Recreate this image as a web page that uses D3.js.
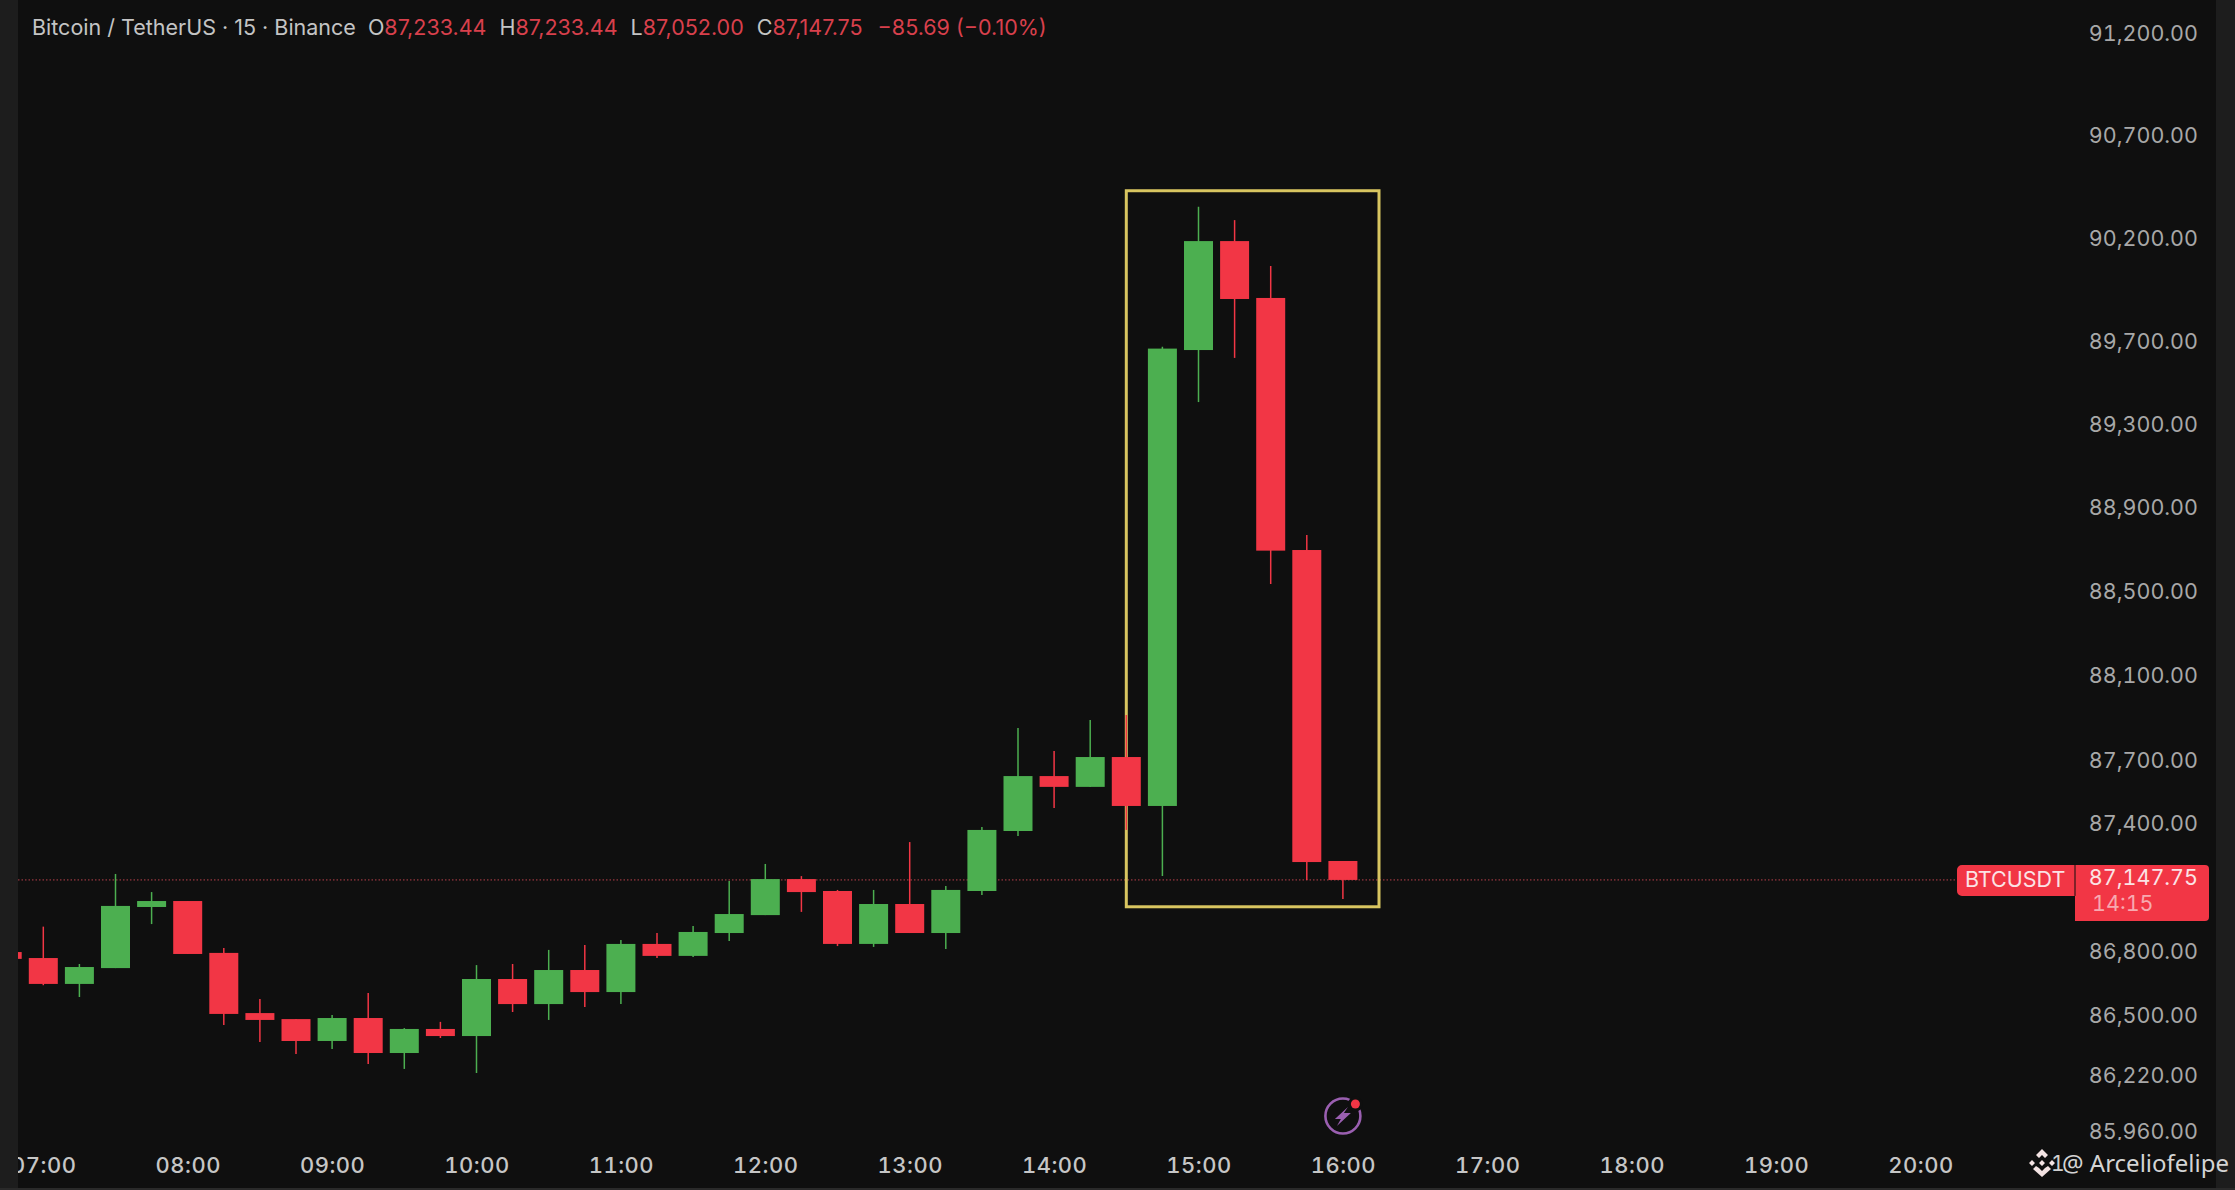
<!DOCTYPE html>
<html>
<head>
<meta charset="utf-8">
<style>
  body { margin: 0; background: #0f0f0f; }
  svg { display: block; font-family: Inter, "Liberation Sans", sans-serif; font-variant-numeric: tabular-nums; }
  .y-axis text { fill: #a8a8a8; font-family: Inter, sans-serif; font-size: 21.5px; }
  .x-axis text { fill: #c6c6c6; font-family: Inter, sans-serif; font-size: 22px; font-weight: 500; letter-spacing: 0.5px; }
  .legend { font-size: 21.5px; fill: #c4c4c4; font-variant-numeric: normal; }
  .legend .red { fill: #d8404c; }
</style>
</head>
<body>
<script src="https://cdnjs.cloudflare.com/ajax/libs/d3/7.8.5/d3.min.js"></script>
<script>
// 15 minute candles
var times = ["06:45", "07:00", "07:15", "07:30", "07:45", "08:00", "08:15", "08:30", "08:45", "09:00",
  "09:15", "09:30", "09:45", "10:00", "10:15", "10:30", "10:45", "11:00", "11:15", "11:30",
  "11:45", "12:00", "12:15", "12:30", "12:45", "13:00", "13:15", "13:30", "13:45", "14:00",
  "14:15", "14:30", "14:45", "15:00", "15:15", "15:30", "15:45", "16:00"];
var opens = [86793, 86765, 86644, 86718, 87004, 87032, 86789, 86508, 86480, 86378,
  86485, 86322, 86434, 86401, 86667, 86550, 86709, 86606, 86831, 86775,
  86882, 86966, 87135, 87079, 86831, 87018, 86882, 87079, 87361, 87620,
  87569, 87710, 87479, 89655, 90183, 89907, 88694, 87220];
var highs = [86793, 86912, 86737, 87159, 87074, 87032, 86812, 86574, 86480, 86499,
  86602, 86438, 86467, 86732, 86737, 86803, 86826, 86849, 86882, 86915,
  87126, 87206, 87149, 87084, 87084, 87309, 87103, 87380, 87847, 87739,
  87885, 87909, 89671, 90350, 90285, 90062, 88766, 87220];
var lows = [86761, 86638, 86583, 86718, 86924, 86784, 86452, 86373, 86317, 86341,
  86271, 86248, 86392, 86229, 86513, 86476, 86536, 86550, 86765, 86770,
  86845, 86966, 86981, 86821, 86817, 86882, 86807, 87060, 87338, 87469,
  87569, 87366, 87149, 89404, 89617, 88532, 87131, 87041];
var closes = [86761, 86644, 86723, 87009, 87032, 86784, 86504, 86476, 86378, 86485,
  86322, 86434, 86401, 86667, 86550, 86709, 86606, 86831, 86775, 86887,
  86971, 87135, 87074, 86831, 87018, 86882, 87084, 87366, 87620, 87569,
  87710, 87479, 89662, 90183, 89902, 88691, 87215, 87131];

// axis ticks
var priceTicks = [91200, 90700, 90200, 89700, 89300, 88900, 88500, 88100, 87700, 87400, 86800, 86500, 86220, 85960];
var timeTicks = ["07:00", "08:00", "09:00", "10:00", "11:00", "12:00", "13:00", "14:00",
  "15:00", "16:00", "17:00", "18:00", "19:00", "20:00"];

// yellow highlight box
var boxTimes = ["14:30", "16:15"];
var boxPrices = [90428, 87005];

// legend pieces, [text, is it red, gap before]
var legendParts = [["Bitcoin / TetherUS · 15 · Binance", false], ["O", false, 12], ["87,233.44", true],
  ["H", false, 13], ["87,233.44", true], ["L", false, 13], ["87,052.00", true], ["C", false, 13],
  ["87,147.75", true], ["−85.69 (−0.10%)", true, 15]];

var lastPriceLabel = "87,147.75";
var countdownLabel = "14:15";
var symbolLabel = "BTCUSDT";
var creditLabel = "@ Arceliofelipe";

var svgWidth = 2235;
var svgHeight = 1190;
var paneLeft = 18;
var paneRight = 2216;

var red = "#f23645";
var green = "#4caf50";

var parseTime = d3.timeParse("%H:%M");

var svg = d3.select("body")
  .append("svg")
  .attr("width", svgWidth)
  .attr("height", svgHeight);

svg.append("rect")
  .attr("width", svgWidth)
  .attr("height", svgHeight)
  .attr("fill", "#0f0f0f");

svg.append("clipPath")
  .attr("id", "price-clip")
  .append("rect")
  .attr("x", -svgWidth)
  .attr("width", svgWidth * 2)
  .attr("height", 1139);

// x is a time scale, y is logarithmic like the chart it comes from
var x = d3.scaleTime()
  .domain([parseTime("07:00"), parseTime("20:00")])
  .range([43.3, 1920.5]);
var y = d3.scaleLog()
  .domain([85960, 91200])
  .range([1131, 33]);

var candles = times.map(function(t, i) {
  return { time: parseTime(t), open: opens[i], high: highs[i], low: lows[i], close: closes[i] };
});
var candleColor = d => d.close >= d.open ? green : red;
var lastClose = closes[closes.length - 1];

// axes
var yAxis = svg.append("g")
  .classed("y-axis", true)
  .attr("clip-path", "url(#price-clip)")
  .attr("transform", "translate(2198, 1)")
  .call(d3.axisLeft(y).tickValues(priceTicks).tickFormat(d3.format(",.2f")).tickSize(0).tickPadding(0));
yAxis.select(".domain").remove();

var xAxis = svg.append("g")
  .classed("x-axis", true)
  .attr("transform", "translate(0, 1165)")
  .call(d3.axisBottom(x).tickValues(timeTicks.map(parseTime)).tickFormat(d3.timeFormat("%H:%M")).tickSize(0).tickPadding(0));
xAxis.select(".domain").remove();
xAxis.selectAll("text").attr("dy", "0.35em");

// last price line
svg.append("line")
  .attr("x1", paneLeft)
  .attr("x2", 1957)
  .attr("y1", y(lastClose))
  .attr("y2", y(lastClose))
  .attr("stroke", "#b8404c")
  .attr("stroke-width", 1)
  .attr("stroke-dasharray", "1.5 2");

// highlight box
svg.append("rect")
  .attr("x", x(parseTime(boxTimes[0])))
  .attr("y", y(boxPrices[0]))
  .attr("width", x(parseTime(boxTimes[1])) - x(parseTime(boxTimes[0])))
  .attr("height", y(boxPrices[1]) - y(boxPrices[0]))
  .attr("fill", "none")
  .attr("stroke", "#d8c560")
  .attr("stroke-width", 3);

// wicks then bodies
svg.selectAll(".wick")
  .data(candles)
  .enter()
  .append("line")
  .classed("wick", true)
  .attr("x1", d => x(d.time))
  .attr("x2", d => x(d.time))
  .attr("y1", d => y(d.high))
  .attr("y2", d => y(d.low))
  .attr("stroke", candleColor)
  .attr("stroke-width", 1.5);

svg.selectAll(".body")
  .data(candles)
  .enter()
  .append("rect")
  .classed("body", true)
  .attr("x", d => x(d.time) - 14.5)
  .attr("width", 29)
  .attr("y", d => y(Math.max(d.open, d.close)))
  .attr("height", d => Math.abs(y(d.open) - y(d.close)))
  .attr("fill", candleColor);

// legend line
var legend = svg.append("text")
  .classed("legend", true)
  .attr("x", 32)
  .attr("y", 35);
legendParts.forEach(function(p) {
  legend.append("tspan")
    .classed("red", p[1])
    .attr("dx", p[2] || 0)
    .text(p[0]);
});

// labels on the price axis
var labelY = y(lastClose);
svg.append("path")
  .attr("d", `M2075,${labelY - 15}H1962a5,5 0 0 0 -5,5V${labelY + 11}a5,5 0 0 0 5,5H2075Z`)
  .attr("fill", red);
svg.append("path")
  .attr("d", `M2075,${labelY - 15}H2205a4,4 0 0 1 4,4V${labelY + 37}a4,4 0 0 1 -4,4H2075Z`)
  .attr("fill", red);
svg.append("line")
  .attr("x1", 2075)
  .attr("x2", 2075)
  .attr("y1", labelY - 15)
  .attr("y2", labelY + 16)
  .attr("stroke", "#0f0f0f")
  .attr("stroke-width", 1);
svg.append("text")
  .attr("x", 1965)
  .attr("y", labelY + 7.5)
  .attr("fill", "#fbe3e5")
  .attr("font-size", 21.5)
  .text(symbolLabel);
svg.append("text")
  .attr("x", 2198)
  .attr("y", labelY + 5.5)
  .attr("text-anchor", "end")
  .attr("fill", "#fbe3e5")
  .attr("font-size", 21.5)
  .text(lastPriceLabel);
svg.append("text")
  .attr("x", 2092)
  .attr("y", labelY + 31)
  .attr("fill", "#f7a9b0")
  .attr("font-size", 21.5)
  .text(countdownLabel);

// lightning icon under the last candle
var icon = svg.append("g")
  .attr("transform", `translate(${x(parseTime("16:00"))}, 1116)`);
icon.append("circle")
  .attr("r", 17.5)
  .attr("fill", "none")
  .attr("stroke", "#9a5fb0")
  .attr("stroke-width", 2.6);
icon.append("path")
  .attr("d", "M5,-9L-8,3H-2L-6,10L8,-3H1Z")
  .attr("fill", "#9a5fb0");
icon.append("circle")
  .attr("cx", 12.5)
  .attr("cy", -12)
  .attr("r", 7.5)
  .attr("fill", "#0f0f0f");
icon.append("circle")
  .attr("cx", 12.5)
  .attr("cy", -12)
  .attr("r", 4.5)
  .attr("fill", red);

// side strips go over the candles and the 07:00 label
svg.append("rect")
  .attr("width", paneLeft)
  .attr("height", svgHeight)
  .attr("fill", "#1d1d1d");
svg.append("rect")
  .attr("x", paneRight)
  .attr("width", svgWidth - paneRight)
  .attr("height", svgHeight)
  .attr("fill", "#1d1d1d");
svg.append("rect")
  .attr("y", 1188)
  .attr("width", svgWidth)
  .attr("height", 2)
  .attr("fill", "#2a2a2a");

// watermark with the exchange logo
var logo = svg.append("g")
  .attr("transform", "translate(2042, 1163)")
  .attr("fill", "#f3e3e3");
logo.append("path")
  .attr("d", "M0,-14L6,-8L3,-5L0,-8L-3,-5L-6,-8ZM-10,-3L-7,0L-10,3L-13,0ZM10,-3L13,0L10,3L7,0ZM0,-3L3,0L0,3L-3,0ZM-6,3L-3,5L0,8L3,5L6,3L9,6L0,14L-9,6Z");
logo.append("text")
  .attr("x", 9)
  .attr("y", 8)
  .attr("font-size", 21)
  .attr("fill", "#cfcfcf")
  .text("1");
svg.append("text")
  .attr("x", 2062)
  .attr("y", 1172)
  .attr("font-family", "'Noto Sans', sans-serif")
  .attr("font-size", 24)
  .attr("fill", "#d4d4d4")
  .text(creditLabel);
</script>
</body>
</html>
